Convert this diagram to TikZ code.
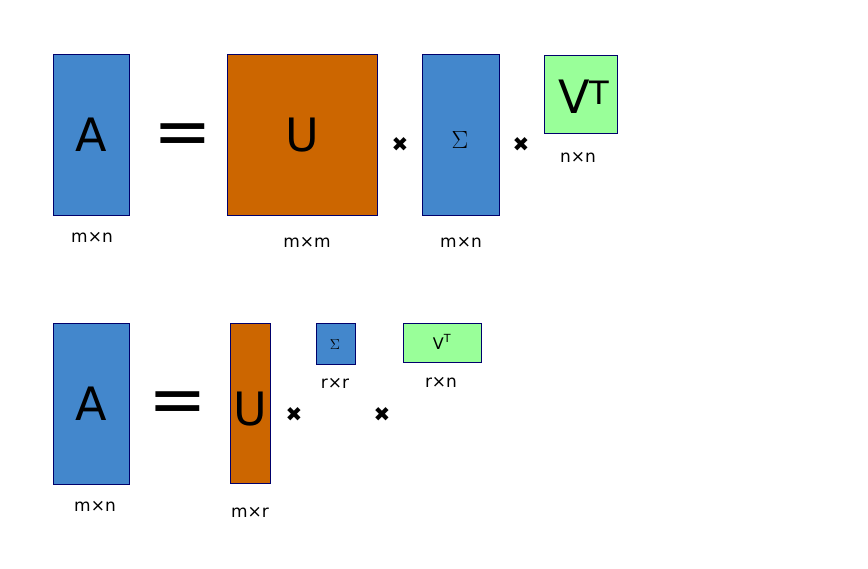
\documentclass[tikz,border=0pt]{standalone}
\usepackage{fontspec}
\setmainfont{DejaVu Sans}
\begin{document}
\begin{tikzpicture}[x=1pt,y=-1pt,
 box/.style={draw=black!40!blue!70!black,line width=1pt},
 bl/.style={box,fill=blue!30!cyan!40!black!0,fill={rgb,255:red,67;green,135;blue,204}},
 og/.style={box,fill={rgb,255:red,204;green,102;blue,0}},
 gr/.style={box,fill={rgb,255:red,153;green,255;blue,153}},
 lab/.style={font=\fontsize{17}{17}\selectfont},
 big/.style={font=\fontsize{46}{46}\selectfont},
 tm/.style={font=\fontsize{20}{20}\selectfont}]
\useasboundingbox (0,0) rectangle (868,568);
% top row
\draw[bl] (53,54) rectangle (129,215); \node[big] (a1) at (91,135) {A};
\node[font=\fontsize{70}{70}\selectfont] (e1) at (183,140) {=};
\draw[og] (227,54) rectangle (377,215); \node[big] (u1) at (302,135) {U};
\node[tm] (x1) at (400,145) {✖};
\draw[bl] (422,54) rectangle (499,215); \node[big] (s1) at (460,140) {$\Sigma$};
\node[tm] (x2) at (521,145) {✖};
\draw[gr] (544,55) rectangle (617,133); \node[big] (v1) at (584,97) {V\textsuperscript{T}};
\node[lab] (l1) at (92,237) {m×n};
\node[lab] (l2) at (307,242) {m×m};
\node[lab] (l3) at (461,242) {m×n};
\node[lab] (l4) at (578,157) {n×n};
% bottom row
\draw[bl] (53,323) rectangle (129,484); \node[big] (a2) at (91,404) {A};
\node[font=\fontsize{70}{70}\selectfont] (e2) at (178,408) {=};
\draw[og] (230,323) rectangle (270,483); \node[big] (u2) at (250,409) {U};
\node[tm] (x3) at (294,415) {✖};
\draw[bl] (316,323) rectangle (355,364); \node[font=\fontsize{14}{14}\selectfont] (s2) at (335,345) {$\Sigma$};
\node[tm] (x4) at (382,415) {✖};
\draw[gr] (403,323) rectangle (481,362); \node[font=\fontsize{16}{16}\selectfont] (v2) at (442,342) {V\textsuperscript{T}};
\node[lab] (l5) at (335,383) {r×r};
\node[lab] (l6) at (441,382) {r×n};
\node[lab] (l7) at (95,506) {m×n};
\node[lab] (l8) at (250,512) {m×r};
\end{tikzpicture}
\end{document}
